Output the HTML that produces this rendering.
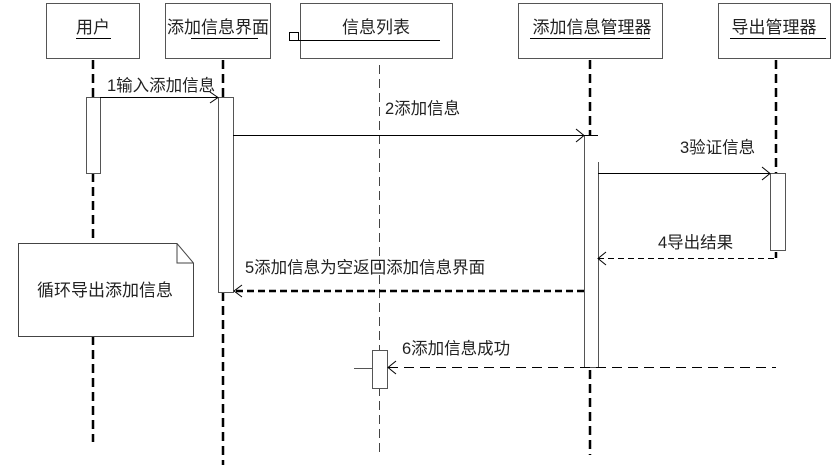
<!DOCTYPE html>
<html><head><meta charset="utf-8"><style>
html,body{margin:0;padding:0;background:#fff;}
svg{display:block;}
text{font-family:"Liberation Sans","Noto Sans CJK SC","WenQuanYi Zen Hei",sans-serif;fill:#222;}
</style></head><body>
<svg width="840" height="470" viewBox="0 0 840 470" xmlns="http://www.w3.org/2000/svg">
<g fill="#fff" stroke="#555" stroke-width="1">
<rect x="46.5" y="3.5" width="93" height="55"/>
<rect x="165.5" y="3.5" width="105" height="55"/>
<rect x="300.5" y="3.5" width="152" height="55"/>
<rect x="518.5" y="3.5" width="144" height="55"/>
<rect x="718.5" y="3.5" width="112" height="55"/>
</g>
<g font-size="17">
<text x="93" y="33" text-anchor="middle">用户</text>
<text x="218" y="33" text-anchor="middle">添加信息界面</text>
<text x="376" y="33" text-anchor="middle">信息列表</text>
<text x="592" y="33" text-anchor="middle">添加信息管理器</text>
<text x="774" y="33" text-anchor="middle">导出管理器</text>
</g>
<g stroke="#000" stroke-width="1">
<line x1="76" y1="38.5" x2="111" y2="38.5"/>
<line x1="191" y1="38.5" x2="258" y2="38.5"/>
<line x1="289" y1="40.5" x2="440" y2="40.5"/>
<rect x="289.5" y="32.5" width="9" height="8" fill="none"/>
<line x1="530" y1="38.5" x2="650" y2="38.5"/>
<line x1="730" y1="38.5" x2="826" y2="38.5"/>
</g>
<g stroke="#000" stroke-width="2.5" stroke-dasharray="9,5" fill="none">
<line x1="93" y1="60" x2="93" y2="97"/>
<line x1="93" y1="173" x2="93" y2="243"/>
<line x1="93" y1="336" x2="93" y2="442"/>
<line x1="223" y1="60" x2="223" y2="97"/>
<line x1="223" y1="292" x2="223" y2="465"/>
<line x1="590" y1="60" x2="590" y2="135"/>
<line x1="590" y1="370" x2="590" y2="455"/>
<line x1="776" y1="60" x2="776" y2="173"/>
<line x1="776" y1="252" x2="776" y2="258"/>
</g>
<line x1="379.5" y1="65" x2="379.5" y2="452" stroke="#444" stroke-width="1" stroke-dasharray="9,5"/>
<g fill="#fff" stroke="#555" stroke-width="1">
<rect x="86.5" y="97.5" width="14" height="76"/>
<rect x="218.5" y="97.5" width="15" height="195"/>
<rect x="770.5" y="173.5" width="15" height="77"/>
<rect x="372.5" y="350.5" width="15" height="38"/>
</g>
<g stroke="#555" stroke-width="1">
<line x1="584.5" y1="135" x2="584.5" y2="367"/>
<line x1="598.5" y1="162" x2="598.5" y2="367"/>
<line x1="584" y1="367.5" x2="598" y2="367.5"/>
<line x1="354" y1="368.5" x2="372" y2="368.5"/>
</g>
<g stroke="#000" stroke-width="1" fill="none">
<line x1="100" y1="97.5" x2="218" y2="97.5"/>
<polyline points="210,92 218,97.5 210,103"/>
<line x1="233" y1="135.5" x2="598" y2="135.5"/>
<polyline points="576,129 584,135.5 576,142"/>
<line x1="598" y1="173.5" x2="770" y2="173.5"/>
<polyline points="762,167 770,173.5 762,180"/>
<line x1="598" y1="258.5" x2="776" y2="258.5" stroke-dasharray="6,4"/>
<polyline points="606,252 598,258.5 606,265"/>
<line x1="236" y1="291" x2="584" y2="291" stroke-width="2.5" stroke-dasharray="7,4"/>
<polyline points="242,285 234,291 242,297"/>
<line x1="388" y1="367.5" x2="776" y2="367.5" stroke-dasharray="10,6"/>
<polyline points="396,361 388,367.5 396,374"/>
</g>
<g font-size="16.5">
<text x="107" y="91">1输入添加信息</text>
<text x="385" y="114">2添加信息</text>
<text x="680" y="153">3验证信息</text>
<text x="658" y="248">4导出结果</text>
<text x="245" y="273">5添加信息为空返回添加信息界面</text>
<text x="402" y="354">6添加信息成功</text>
</g>
<path d="M18.5,243.5 H177 L193.5,263 V336.5 H18.5 Z" fill="#fff" stroke="#444"/>
<path d="M177,243.5 V263 H193.5" fill="none" stroke="#444"/>
<text x="105" y="296" font-size="17" text-anchor="middle">循环导出添加信息</text>
</svg>
</body></html>
